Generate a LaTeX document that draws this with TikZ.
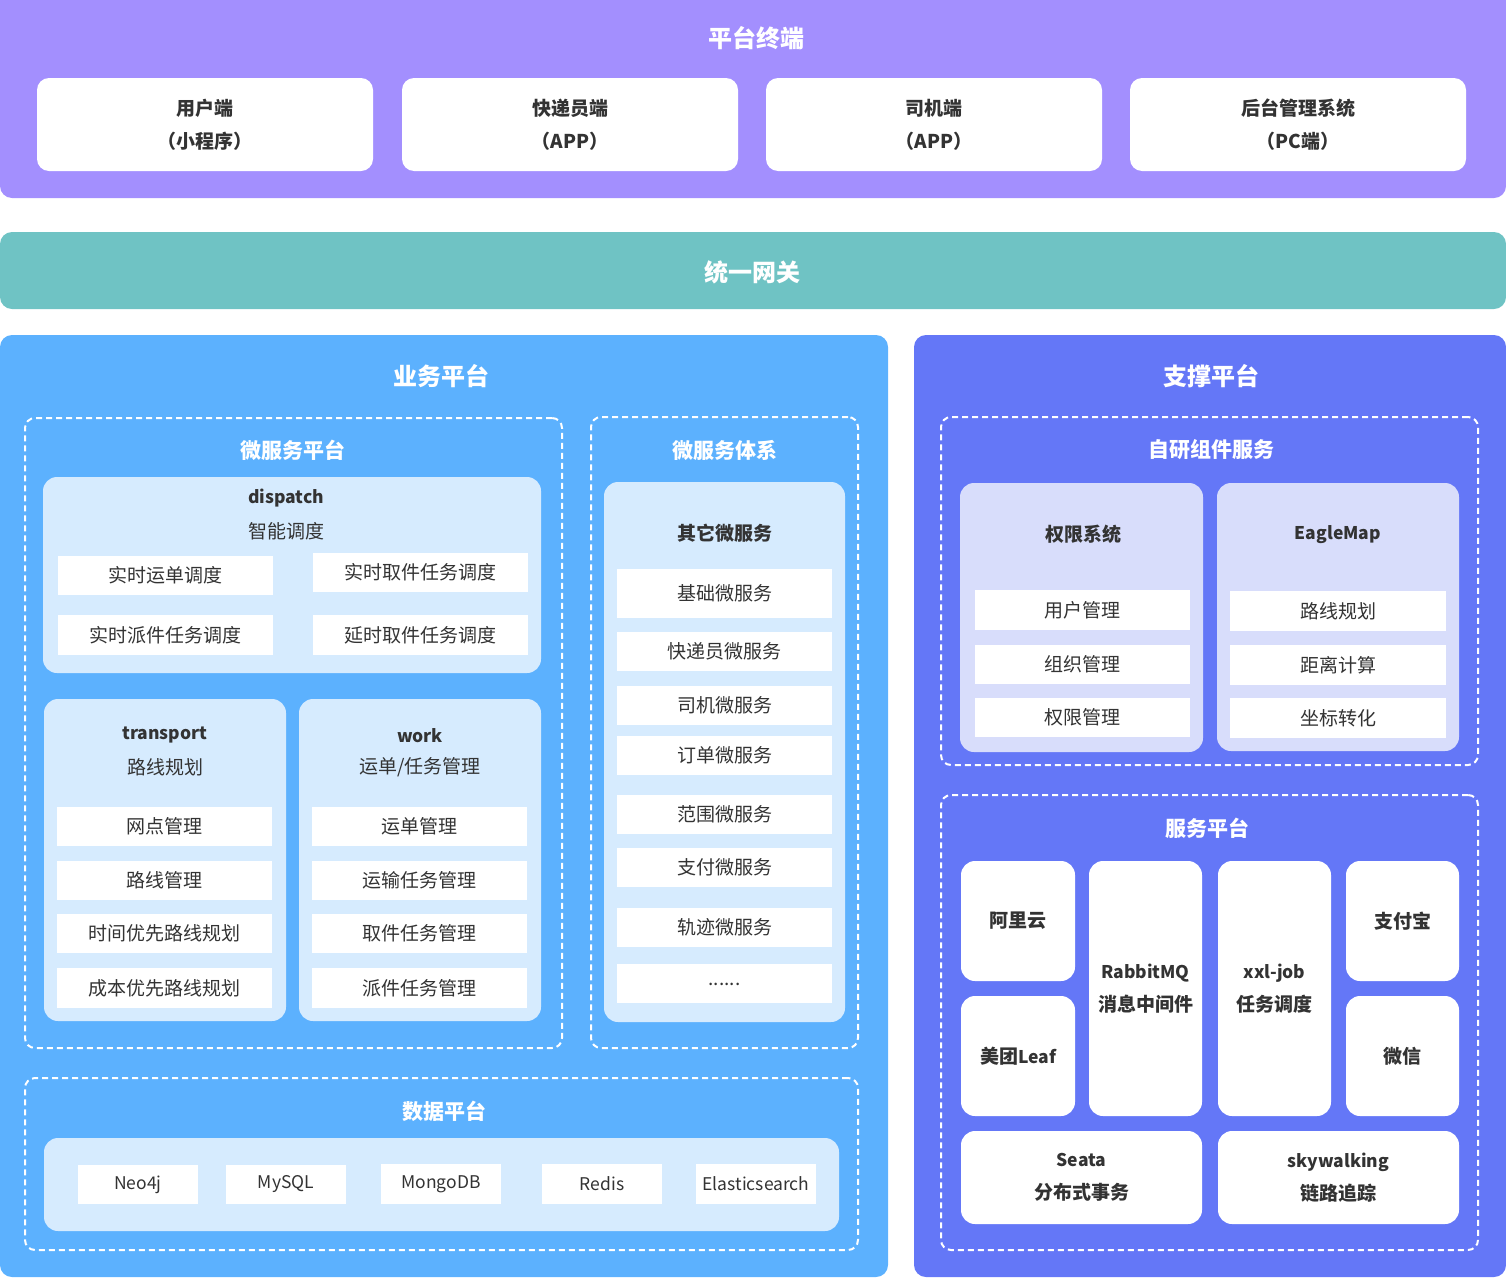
\documentclass[tikz,border=0pt]{standalone}
\usepackage{fontspec}
\setmainfont{Noto Sans CJK SC}
\definecolor{cTop}{HTML}{A38FFE}
\definecolor{cTeal}{HTML}{6FC3C4}
\definecolor{cBlue}{HTML}{5CB1FE}
\definecolor{cSup}{HTML}{6477F7}
\definecolor{cLB}{HTML}{D6EBFE}
\definecolor{cLP}{HTML}{D8DDFB}
\definecolor{cTxt}{HTML}{333333}
\newcommand\bx[7]{\node[#6, minimum width={#4-#2}, minimum height={#5-#3}] (#1) at ({(#2+#4)/2},{(#3+#5)/2}) {#7};}
\newcommand\lat[1]{{\fontsize{17.5}{33}\selectfont #1}}
\tikzset{
  every node/.style={inner sep=0pt, outer sep=0pt},
  band/.style={rounded corners=12pt},
  bigtitle/.style={text=white, font=\bfseries\fontsize{24}{28}\selectfont},
  subtitle/.style={text=white, font=\bfseries\fontsize{21}{26}\selectfont},
  dashbox/.style={draw=white, line width=2pt, dash pattern=on 6pt off 4pt, rounded corners=10pt},
  termbox/.style={fill=white, rounded corners=12pt, text=cTxt, align=center, font=\bfseries\fontsize{19}{33}\selectfont},
  lbox/.style={fill=cLB, rounded corners=14pt},
  lpbox/.style={fill=cLP, rounded corners=14pt},
  item/.style={fill=white, text=cTxt, font=\fontsize{19}{22}\selectfont},
  latitem/.style={fill=white, text=cTxt, font=\fontsize{17.5}{22}\selectfont},
  boldlbl/.style={text=cTxt, font=\bfseries\fontsize{19}{22}\selectfont},
  boldlat/.style={text=cTxt, font=\bfseries\fontsize{17.5}{22}\selectfont},
  reglbl/.style={text=cTxt, font=\fontsize{19}{22}\selectfont},
  svcbox/.style={fill=white, rounded corners=14pt, text=cTxt, align=center, font=\bfseries\fontsize{19}{33}\selectfont},
}
\begin{document}
\begin{tikzpicture}[x=1pt,y=-1pt]
\useasboundingbox (0,0) rectangle (1506,1277);
% top band
\bx{top}{0}{-20}{1506}{198}{band, fill=cTop}{}
\node[bigtitle] (toptitle) at (756,38) {平台终端};
\bx{t1}{37}{78}{373}{171}{termbox}{用户端\\（小程序）}
\bx{t2}{402}{78}{738}{171}{termbox}{快递员端\\（APP）}
\bx{t3}{766}{78}{1102}{171}{termbox}{司机端\\（APP）}
\bx{t4}{1130}{78}{1466}{171}{termbox}{后台管理系统\\（PC端）}
% gateway
\bx{gw}{0}{232}{1506}{309}{band, fill=cTeal}{}
\node[bigtitle] (gwtitle) at (752,272) {统一网关};
% business platform
\bx{biz}{0}{335}{888}{1277}{band, fill=cBlue}{}
\node[bigtitle] (biztitle) at (441,376) {业务平台};
\bx{d1}{25}{418}{562}{1048}{dashbox}{}
\node[subtitle] (d1t) at (293,450) {微服务平台};
\bx{d2}{591}{417}{858}{1048}{dashbox}{}
\node[subtitle] (d2t) at (725,450) {微服务体系};
\bx{d3}{25}{1078}{858}{1250}{dashbox}{}
\node[subtitle] (d3t) at (444,1111) {数据平台};
% dispatch
\bx{disp}{43}{477}{541}{673}{lbox}{}
\node[boldlat] (dispa) at (286,498) {dispatch};
\node[reglbl] (dispb) at (286,531) {智能调度};
\bx{di1}{58}{556}{273}{595}{item}{实时运单调度}
\bx{di2}{313}{553}{528}{592}{item}{实时取件任务调度}
\bx{di3}{58}{615}{273}{655}{item}{实时派件任务调度}
\bx{di4}{313}{615}{528}{655}{item}{延时取件任务调度}
% transport
\bx{trans}{44}{699}{286}{1021}{lbox}{}
\node[boldlat] (transa) at (165,735) {transport};
\node[reglbl] (transb) at (165,767) {路线规划};
\bx{tr1}{57}{807}{272}{846}{item}{网点管理}
\bx{tr2}{57}{861}{272}{900}{item}{路线管理}
\bx{tr3}{57}{914}{272}{953}{item}{时间优先路线规划}
\bx{tr4}{57}{968}{272}{1008}{item}{成本优先路线规划}
% work
\bx{work}{299}{699}{541}{1021}{lbox}{}
\node[boldlat] (worka) at (420,736) {work};
\node[reglbl] (workb) at (420,767) {运单/任务管理};
\bx{wk1}{312}{807}{527}{846}{item}{运单管理}
\bx{wk2}{312}{861}{527}{900}{item}{运输任务管理}
\bx{wk3}{312}{914}{527}{953}{item}{取件任务管理}
\bx{wk4}{312}{968}{527}{1008}{item}{派件任务管理}
% other microservices
\bx{other}{604}{482}{845}{1022}{lbox}{}
\node[boldlbl] (othert) at (725,533) {其它微服务};
\bx{ot1}{617}{569}{832}{618}{item}{基础微服务}
\bx{ot2}{617}{632}{832}{671}{item}{快递员微服务}
\bx{ot3}{617}{686}{832}{725}{item}{司机微服务}
\bx{ot4}{617}{736}{832}{775}{item}{订单微服务}
\bx{ot5}{617}{795}{832}{834}{item}{范围微服务}
\bx{ot6}{617}{848}{832}{887}{item}{支付微服务}
\bx{ot7}{617}{908}{832}{947}{item}{轨迹微服务}
\bx{ot8}{617}{964}{832}{1003}{item}{\raisebox{-4pt}{......}}
% data platform
\bx{data}{44}{1138}{839}{1231}{lbox}{}
\bx{db1}{78}{1165}{198}{1204}{latitem}{Neo4j}
\bx{db2}{226}{1165}{346}{1204}{latitem}{MySQL}
\bx{db3}{381}{1164}{501}{1204}{latitem}{MongoDB}
\bx{db4}{542}{1164}{662}{1204}{latitem}{Redis}
\bx{db5}{696}{1164}{816}{1204}{latitem}{Elasticsearch}
% support platform
\bx{sup}{914}{335}{1506}{1277}{band, fill=cSup}{}
\node[bigtitle] (suptitle) at (1211,376) {支撑平台};
\bx{d4}{941}{417}{1478}{765}{dashbox}{}
\node[subtitle] (d4t) at (1211,450) {自研组件服务};
\bx{auth}{960}{483}{1203}{752}{lpbox}{}
\node[boldlbl] (autht) at (1083,534) {权限系统};
\bx{au1}{975}{590}{1190}{630}{item}{用户管理}
\bx{au2}{975}{645}{1190}{684}{item}{组织管理}
\bx{au3}{975}{698}{1190}{737}{item}{权限管理}
\bx{eagle}{1217}{483}{1459}{751}{lpbox}{}
\node[boldlat] (eaglet) at (1338,535) {EagleMap};
\bx{eg1}{1230}{591}{1446}{631}{item}{路线规划}
\bx{eg2}{1230}{645}{1446}{685}{item}{距离计算}
\bx{eg3}{1230}{698}{1446}{738}{item}{坐标转化}
\bx{d5}{941}{795}{1478}{1250}{dashbox}{}
\node[subtitle] (d5t) at (1207,828) {服务平台};
\bx{sv1}{961}{861}{1075}{981}{svcbox}{阿里云}
\bx{sv2}{961}{996}{1075}{1116}{svcbox}{美团\lat{Leaf}}
\bx{sv3}{1089}{861}{1202}{1116}{svcbox}{\lat{RabbitMQ}\\消息中间件}
\bx{sv4}{1218}{861}{1331}{1116}{svcbox}{\lat{xxl-job}\\任务调度}
\bx{sv5}{1346}{861}{1459}{981}{svcbox}{支付宝}
\bx{sv6}{1346}{996}{1459}{1116}{svcbox}{微信}
\bx{sv7}{961}{1131}{1202}{1224}{svcbox}{\lat{Seata}\\分布式事务}
\bx{sv8}{1218}{1131}{1459}{1224}{svcbox}{\lat{skywalking}\\链路追踪}
\end{tikzpicture}
\end{document}
